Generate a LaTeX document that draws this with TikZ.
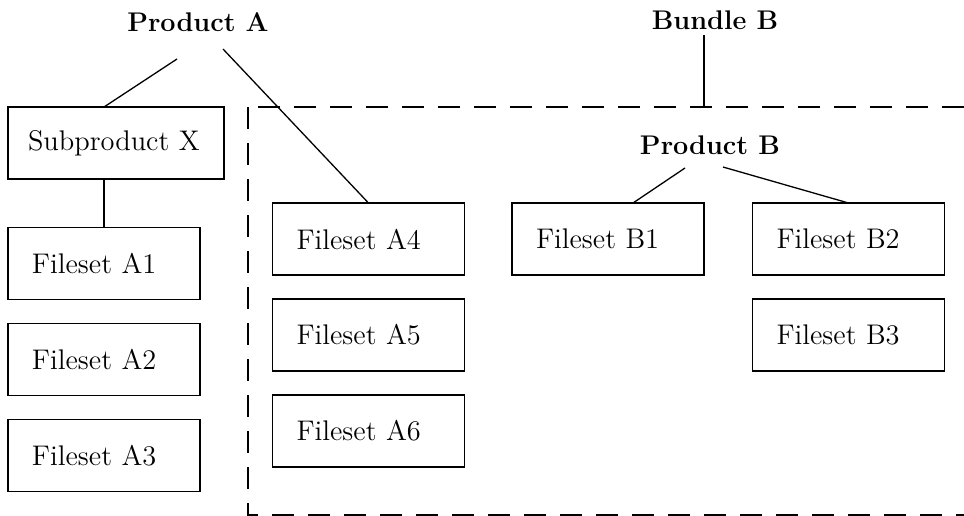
\documentclass[tikz,border=0pt]{standalone}
\usetikzlibrary{positioning}
\begin{document}
\begin{tikzpicture}[x=0.5pt,y=-0.5pt,line width=0.65pt,
font=\fontsize{14.2}{17}\selectfont,
node distance=12pt,
every node/.style={inner sep=0pt,outer sep=0pt},
fileset/.style={draw,minimum height=36pt,text width=72pt,inner xsep=12pt,align=left},
product/.style={font=\fontsize{13.5}{16}\selectfont\bfseries},
bundle/.style={draw,dash pattern=on 11pt off 7pt}]
\useasboundingbox (0,0) rectangle (964,515);
\node[product] (pa) at (198,22) {Product A};
\node[product] (bb) at (715,20) {Bundle B};
\node[product] (pb) at (710,145) {Product B};

\node[fileset,text width=88pt,inner xsep=10pt] (subx) at (116,143) {Subproduct X};
\node[fileset] (fa1) at (104,263.5) {Fileset A1};
\node[fileset,below=of fa1] (fa2) {Fileset A2};
\node[fileset,below=of fa2] (fa3) {Fileset A3};
\node[fileset] (fa4) at (368.5,239) {Fileset A4};
\node[fileset,below=of fa4] (fa5) {Fileset A5};
\node[fileset,below=of fa5] (fa6) {Fileset A6};
\node[fileset] (fb1) at (608,239) {Fileset B1};
\node[fileset] (fb2) at (848.5,239) {Fileset B2};
\node[fileset,below=of fb2] (fb3) {Fileset B3};

\coordinate (bnw) at (248,107);
\coordinate (bse) at (990,515);
\draw[bundle] (bnw) rectangle (bse);

\coordinate (pa-l) at (177,59);
\coordinate (pa-r) at (223,49);
\coordinate (bb-b) at (704,35);
\coordinate (pb-l) at (685,168);
\coordinate (pb-r) at (723,167);
\draw (pa-l) -- (fa1.north |- subx.north);
\draw (pa-r) -- (fa4.north);
\draw (fa1.north |- subx.south) -- (fa1.north);
\draw (bb-b) -- (bb-b |- bnw);
\draw (pb-l) -- ([xshift=12.5pt]fb1.north);
\draw (pb-r) -- (fb2.north);
\end{tikzpicture}
\end{document}
